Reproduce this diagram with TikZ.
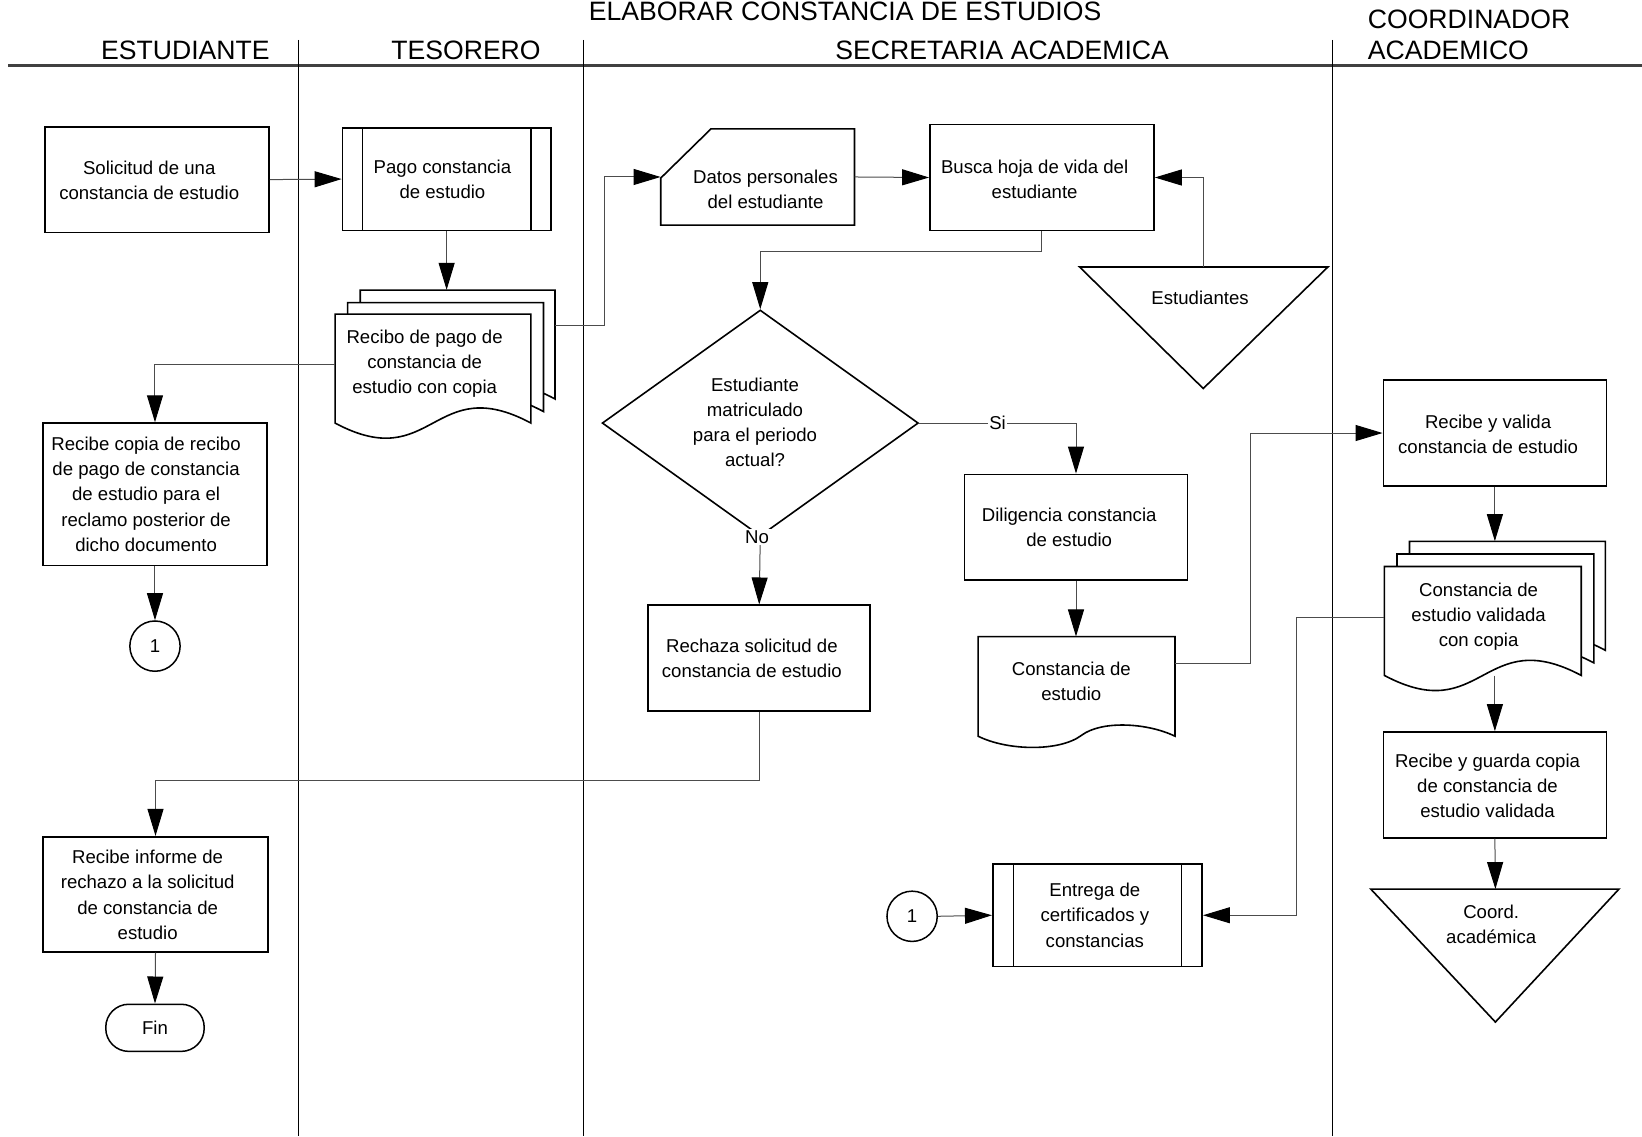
\documentclass[tikz,border=0pt]{standalone}
\usepackage{fontspec}
\setmainfont{Liberation Sans}
\usetikzlibrary{arrows.meta,shapes.geometric,calc}
\newcommand\su{1.0472pt}
\newcommand\bodyfont{\fontsize{18.6pt}{25.1pt}\selectfont}
\newcommand\headfont{\fontsize{26.6pt}{30.4pt}\selectfont}
\begin{document}
\begin{tikzpicture}[x=1.0472pt,y=-1.0472pt,
  proc/.style={draw=black, line width=1.6pt, fill=white, inner sep=0pt, align=center, font=\bodyfont},
  ghost/.style={inner sep=0pt, align=center, font=\bodyfont},
  shp/.style={draw=black, line width=1.6pt, fill=white, line join=miter},
  inner/.style={draw=black, line width=1.2pt},
  conn/.style={draw=black!70, line width=1pt, -{Triangle[length=27pt,width=16pt,color=black]}},
  lane/.style={draw=black, line width=0.9pt},
  head/.style={font=\headfont, inner sep=0pt},
  lbl/.style={font=\bodyfont, fill=white, inner sep=1.5pt}
]
\useasboundingbox (0,0) rectangle (1568,1085);

% header
\node[head, anchor=base] (title) at (807,20) {ELABORAR CONSTANCIA DE ESTUDIOS};
\node[head, anchor=base] (h1) at (177,57) {ESTUDIANTE};
\node[head, anchor=base] (h2) at (445,57) {TESORERO};
\node[head, anchor=base] (h3) at (957,57) {SECRETARIA ACADEMICA};
\node[head, anchor=base west] (h4a) at (1306,27) {COORDINADOR};
\node[head, anchor=base west] (h4b) at (1306,57) {ACADEMICO};
\draw[line width=3pt, black!75] (8,63) -- (1568,63);
\draw[lane] (285,38) -- (285,1085);
\draw[lane] (557,38) -- (557,1085);
\draw[lane] (1272,38) -- (1272,1085);

% ---- Estudiante lane ----
\node[proc, minimum width=214*\su, minimum height=101*\su] (sol) at (150,171.5) {};
\node[ghost] (sol-t) at (142.5,172) {Solicitud de una\\constancia de estudio};
\node[proc, minimum width=214*\su, minimum height=136*\su] (rcp) at (148,472) {};
\node[ghost] (rcp-t) at (139.5,472) {Recibe copia de recibo\\de pago de constancia\\de estudio para el\\reclamo posterior de\\dicho documento};
\node[proc, circle, line width=1.5pt, minimum size=48*\su] (c1) at (148,617) {1};
\node[proc, minimum width=215*\su, minimum height=110*\su] (inf) at (148.5,854) {};
\node[ghost] (inf-t) at (141,854.5) {Recibe informe de\\rechazo a la solicitud\\de constancia de\\estudio};
\node[proc, line width=1.5pt, rounded corners=23pt, minimum width=94*\su, minimum height=45*\su] (fin) at (148,981.5) {Fin};

% ---- Tesorero lane ----
\node[proc, minimum width=199*\su, minimum height=98*\su] (pago) at (426.5,171) {};
\node[ghost] (pago-t) at (422.5,171) {Pago constancia\\de estudio};
\draw[inner] (346,122) -- (346,220);
\draw[inner] (507,122) -- (507,220);

\draw[shp] (344,277) -- (530,277) -- (530,381) .. controls (437,331) and (437,431) .. (344,381) -- cycle;
\draw[shp] (332,289) -- (519,289) -- (519,393) .. controls (425.5,343) and (425.5,443) .. (332,393) -- cycle;
\draw[shp] (320,300) -- (507,300) -- (507,404) .. controls (413.5,354) and (413.5,454) .. (320,404) -- cycle;
\node[ghost, minimum width=186*\su, minimum height=104*\su] (rec3) at (437,329) {};
\node[ghost, minimum width=187*\su, minimum height=104*\su] (rec) at (413.5,352) {};
\node[ghost] (rec-t) at (405.5,347) {Recibo de pago de\\constancia de\\estudio con copia};

% ---- Secretaria lane ----
\draw[shp] (631,170) -- (679,123) -- (816,123) -- (816,215) -- (631,215) -- cycle;
\node[ghost, minimum width=185*\su, minimum height=92*\su] (datos) at (723.5,169) {};
\node[ghost] (datos-t) at (731,181) {Datos personales\\del estudiante};

\node[proc, minimum width=214*\su, minimum height=101*\su] (busca) at (995,169.5) {};
\node[ghost] (busca-t) at (988,171) {Busca hoja de vida del\\estudiante};

\draw[shp] (1031,255) -- (1268,255) -- (1149,371) -- cycle;
\coordinate (esttop) at (1149,255);
\node[ghost] (est) at (1146,284) {Estudiantes};

\node[proc, diamond, aspect=1.4, minimum width=302*\su, minimum height=216*\su] (dec) at (726,404) {};
\node[ghost] (dec-t) at (721,403.5) {Estudiante\\matriculado\\para el periodo\\actual?};

\node[proc, minimum width=213*\su, minimum height=101*\su] (dil) at (1027.5,503.5) {};
\node[ghost] (dil-t) at (1021,504) {Diligencia constancia\\de estudio};

\draw[shp] (934,608) -- (1122,608) -- (1122,703) .. controls (1095,690) and (1052,688) .. (1033,702) .. controls (1012,718) and (962,717) .. (934,703) -- cycle;
\node[ghost, minimum width=188*\su, minimum height=95*\su] (cons) at (1028,655.5) {};
\node[ghost] (cons-t) at (1023,651) {Constancia de\\estudio};

\node[proc, minimum width=212*\su, minimum height=101*\su] (rech) at (725,628.5) {};
\node[ghost] (rech-t) at (718,629) {Rechaza solicitud de\\constancia de estudio};

\node[proc, minimum width=200*\su, minimum height=98*\su] (ent) at (1048,874) {};
\node[ghost] (ent-t) at (1045.5,874) {Entrega de\\certificados y\\constancias};
\draw[inner] (968,825) -- (968,923);
\draw[inner] (1128,825) -- (1128,923);
\node[proc, circle, line width=1.5pt, minimum size=48*\su] (c1b) at (871,875) {1};

% ---- Coordinador lane ----
\node[proc, minimum width=213*\su, minimum height=101*\su] (val) at (1427.5,413.5) {};
\node[ghost] (val-t) at (1421,415) {Recibe y valida\\constancia de estudio};

\draw[shp] (1346,517) -- (1533,517) -- (1533,621) .. controls (1439.5,571) and (1439.5,671) .. (1346,621) -- cycle;
\draw[shp] (1334,529) -- (1522,529) -- (1522,633) .. controls (1428,583) and (1428,683) .. (1334,633) -- cycle;
\draw[shp] (1322,541) -- (1510,541) -- (1510,645) .. controls (1416,595) and (1416,695) .. (1322,645) -- cycle;
\node[ghost, minimum width=187*\su, minimum height=104*\su] (vald3) at (1439.5,569) {};
\node[ghost, minimum width=188*\su, minimum height=104*\su] (vald) at (1416,593) {};
\node[ghost] (vald-t) at (1412,589) {Constancia de\\estudio validada\\con copia};

\node[proc, minimum width=213*\su, minimum height=101*\su] (guarda) at (1427.5,749.5) {};
\node[ghost] (guarda-t) at (1420.5,750.5) {Recibe y guarda copia\\de constancia de\\estudio validada};

\draw[shp] (1309,849) -- (1546,849) -- (1428,976) -- cycle;
\coordinate (cotop) at (1428,849);
\node[ghost] (coord) at (1424,882.5) {Coord.\\académica};

% ---- connectors ----
\draw[conn] (sol.east) -- (pago.west);
\draw[conn] (pago.south) -- (pago.south |- rec3.north);
\draw[conn] ($(rec.west)+(0,-3.5)$) -| (rcp.north);
\draw[conn] (rcp.south) -- (c1.north);
\draw[conn] ($(rec3.north east)+(0,34)$) -| ($(datos.west)+(-54,0)$) -- (datos.west);
\draw[conn] (datos.east) -- (busca.west);
\draw[conn] (esttop) |- (busca.east);
\draw[conn] (busca.south) -- ++(0,19) -| (dec.north);
\draw[conn] (dec.east) -- node[lbl] (si) {Si} (dil.north |- dec.east) -- (dil.north);
\draw[conn] (dec.south) -- (rech.north);
\node[lbl] (no) at ($(dec.south)+(-3,0)$) {No};
\draw[conn] (dil.south) -- (dil.south |- cons.north);
\draw[conn] ($(cons.east)+(0,-22)$) -| ($(val.west)+(-126,0)$) -- (val.west);
\draw[conn] (val.south) -- (val.south |- vald3.north);
\draw[conn] ($(vald.west)+(0,-3)$) -| ($(ent.east)+(89,0)$) -- (ent.east);
\draw[conn] (guarda.north |- vald.south) -- (guarda.north);
\draw[conn] (guarda.south) -- (cotop);
\draw[conn] (rech.south) -- ++(0,66) -| (inf.north);
\draw[conn] (inf.south) -- (fin.north);
\draw[conn] (c1b.east) -- (ent.west);
\end{tikzpicture}
\end{document}
